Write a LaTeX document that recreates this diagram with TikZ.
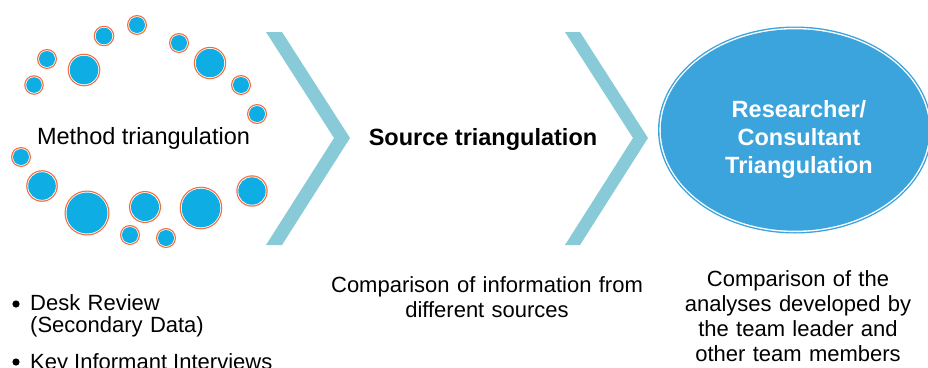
\documentclass[tikz,border=0pt]{standalone}
\usepackage{fontspec}
\setmainfont{Liberation Sans}
\definecolor{dotblue}{HTML}{0EADE4}
\definecolor{ringorange}{HTML}{F26B3A}
\definecolor{chevroncol}{HTML}{88CAD8}
\definecolor{ovalblue}{HTML}{3BA4DC}
\begin{document}
\begin{tikzpicture}[x=1pt,y=-1pt,
  headtext/.style={inner sep=0pt, font=\fontsize{23.5}{28}\selectfont},
  headbold/.style={inner sep=0pt, font=\fontsize{23.5}{28}\selectfont\bfseries},
  ovaltext/.style={inner sep=0pt, text=white, align=center, text width=220pt,
    font=\fontsize{23.5}{28}\selectfont\bfseries},
  note/.style={inner sep=0pt, font=\fontsize{22}{25}\selectfont},
  bulletdot/.style={circle, fill=black, inner sep=0pt, minimum size=7.2pt}
]
\useasboundingbox (0,0) rectangle (928,367);
\clip (0,0) rectangle (928,367);

% ring of dots: orange rim, thin white gap, blue disc
\foreach \cx/\cy/\r in {137/25/10, 104/36/10.3, 47/59/10, 84/70/16.3, 34/85/9.8,
    179/43/10, 210/63/16.2, 241/85/10, 257/114/10, 21/157/10, 42/186/15.8,
    87/213/22.5, 145/207/16, 130/235/10, 166/238/10, 201/208/21.3, 252/191/15.7}
{
  \fill[ringorange] (\cx,\cy) circle (\r);
  \fill[white] (\cx,\cy) circle (\r-1.2);
  \fill[dotblue] (\cx,\cy) circle (\r-2);
}

% chevrons
\fill[chevroncol] (266,32) -- (282,32) -- (350,138) -- (282,245) -- (266,245) -- (334,138) -- cycle;
\fill[chevroncol] (565,32) -- (580,32) -- (648,138) -- (580,245) -- (565,245) -- (633,138) -- cycle;

% oval with double rim
\fill[ovalblue] (795,130) ellipse [x radius=137, y radius=103.5];
\fill[white] (795,130) ellipse [x radius=135.6, y radius=102.1];
\fill[ovalblue] (795,130) ellipse [x radius=134.2, y radius=100.7];

% headings
\node[headtext, anchor=base] (method) at (143.5,144) {Method triangulation};
\node[headbold, anchor=base] (source) at (483,145) {Source triangulation};
\node[ovaltext, anchor=base] (researcher) at (799,117) {Researcher/\\Consultant\\Triangulation};

% descriptions
\node[note, anchor=base, align=center, text width=340pt] (srcnote) at (487,292)
  {Comparison of information from\\different sources};
\node[note, anchor=base, align=center, text width=260pt] (resnote) at (798,286)
  {Comparison of the\\analyses developed by\\the team leader and\\other team members};

% bullet list
\node[bulletdot] (b1) at (16,304) {};
\node[note, anchor=base west, align=left, text width=260pt,
  font=\fontsize{22}{22.5}\selectfont] (desk) at (30,310) {Desk Review\\(Secondary Data)};
\node[bulletdot] (b2) at (16,362) {};
\node[note, anchor=base west] (kii) at (30,369.5) {Key Informant Interviews};
\end{tikzpicture}
\end{document}
